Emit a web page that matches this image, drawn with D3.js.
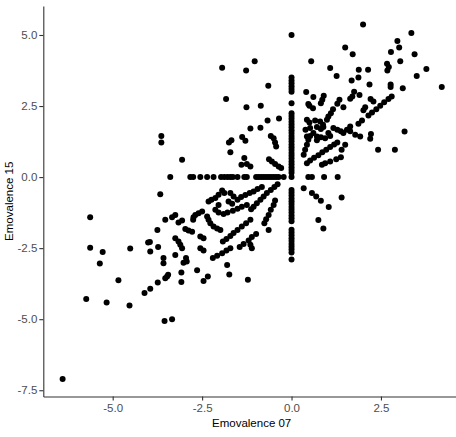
<!DOCTYPE html>
<html>
<head>
<meta charset="utf-8">
<script src="https://cdn.jsdelivr.net/npm/d3@7"></script>
<style>
  body { margin: 0; background: #fff; }
  svg { display: block; font-family: "Liberation Sans", Arial, sans-serif; }
</style>
</head>
<body>
<svg width="456" height="437"></svg>
<script>
// y values of the points where Emovalence 07 is exactly 0
const atZero07 = [5.0, 3.5, 3.4, 3.3, 3.2, 3.1, 3.0, 2.6, 2.25, 2.15, 2.05, 1.95, 1.85, 1.75, 1.65,
  1.55, 1.45, 1.35, 1.25, 1.15, 1.05, 0.95, 0.85, 0.75, 0.65, 0.55, 0.45, 0.35, 0.25, 0.15, 0,
  -0.45, -0.55, -0.65, -0.75, -0.85, -0.95, -1.05, -1.15, -1.25, -1.35, -1.45, -1.55,
  -1.85, -1.95, -2.05, -2.15, -2.25, -2.35, -2.45, -2.55, -2.65, -2.9];

// x values of the points where Emovalence 15 is exactly 0
const atZero15 = [-3.39, -2.83, -2.75, -2.55, -2.36, -2.18, -1.97, -1.88, -1.79, -1.71, -1.64,
  -1.51, -1.32, -1.25, -0.99, -0.92, -0.85, -0.78, -0.71, -0.64, -0.57, -0.5, -0.43, -0.36,
  -0.22, 0.47, 0.57, 0.91, 1.29];

// remaining points as [emovalence07, emovalence15]
const upperLeft = [[-1.94,3.85],[-1.27,3.75],[-1.03,4.08],[-0.65,3.21],[-1.83,2.75],[-1.26,2.46],
  [-0.86,2.51],[-0.67,1.99],[-0.35,2.06],[-1.15,1.71],[-0.87,1.74],[-3.64,1.45],[-3.64,1.22],
  [-1.38,1.41],[-1.29,1.28],[-1.75,1.22],[-1.68,1.3],[-0.58,1.45],[-0.5,1.37],[-0.46,1.22],
  [-0.43,1.08],[-1.71,0.87],[-3.06,0.61],[-1.32,0.67],[-1.4,0.43],[-1.25,0.46],[-1.15,0.37],
  [-0.63,0.63],[-0.55,0.55],[-0.46,0.46],[-0.36,0.37],[-0.29,0.32]];

const upperRight = [[0.55,4.08],[0.41,2.99],[0.47,2.57],[0.43,2.02],[0.39,1.67],[0.43,1.43],
  [2.0,5.37],[3.35,5.07],[2.96,4.79],[3.01,4.56],[2.78,4.4],[1.5,4.56],[1.71,4.32],[3.44,4.32],
  [3.04,4.08],[2.67,3.99],[2.72,3.87],[2.68,3.75],[3.77,3.8],[1.08,3.84],[1.88,3.78],[2.14,3.78],
  [1.26,3.56],[1.87,3.5],[1.68,3.4],[3.5,3.56],[2.18,3.26],[2.77,3.26],[2.77,3.17],[3.11,3.13],
  [4.2,3.17],[1.75,3.0],[1.9,2.89],[0.61,2.82],[0.9,2.86],[0.86,2.72],[0.82,2.6],[0.5,2.51],
  [0.6,2.42],[1.34,2.72],[1.28,2.58],[1.45,2.46],[1.16,2.39],[1.1,2.25],[1.64,2.76],[1.7,2.84],
  [2.21,2.75],[2.29,2.66],[2.8,2.84],[2.71,2.75],[2.59,2.63],[2.48,2.51],[2.37,2.39],[2.25,2.27],
  [2.15,2.17],[2.06,2.46],[2.01,2.35],[1.97,1.99],[1.87,1.88],[1.64,1.78],[1.55,1.67],[1.45,1.55],
  [1.03,2.13],[0.99,2.02],[0.5,1.92],[0.66,1.99],[0.8,1.96],[0.88,1.84],[0.71,1.76],[0.82,1.69],
  [0.89,1.76],[0.52,1.73],[1.17,1.73],[1.28,1.67],[1.38,1.61],[0.61,1.55],[0.71,1.43],[0.82,1.4],
  [0.94,1.37],[1.03,1.55],[1.08,1.45],[0.71,1.3],[1.64,1.61],[1.78,1.49],[1.92,1.43],[2.22,1.52],
  [2.2,1.35],[3.16,1.6],[2.42,0.96],[2.89,0.96],[0.43,0.49],[0.52,0.58],[0.63,0.68],[0.75,0.77],
  [0.86,0.87],[0.97,0.96],[1.08,1.06],[1.19,1.15],[1.28,1.22],[0.85,0.43],[0.94,0.49],[1.08,0.55],
  [1.25,0.63],[1.38,0.7],[1.4,0.96],[1.5,1.14],[0.34,0.79],[0.38,0.96],[0.43,1.14],[0.47,1.31],
  [0.52,1.45]];

const lowerRight = [[0.34,-0.39],[0.57,-0.56],[0.69,-0.68],[0.82,-0.83],[1.04,-1.05],[1.4,-0.72],
  [0.75,-1.51],[0.89,-1.81]];

const lowerLeft = [[-3.67,-0.6],
  [-0.39,-0.25],[-0.48,-0.35],[-0.58,-0.45],[-0.69,-0.56],[-0.78,-0.68],[-0.87,-0.8],[-0.97,-0.92],
  [-1.06,-1.04],[-1.13,-1.13],
  [-0.46,-0.82],[-0.5,-0.98],[-0.58,-1.15],[-0.64,-1.33],[-0.71,-1.48],[-0.76,-1.62],[-0.64,-1.86],
  [-0.83,-0.35],[-0.95,-0.42],[-1.06,-0.51],[-1.17,-0.56],[-1.29,-0.63],[-1.41,-0.7],[-1.51,-0.8],
  [-1.25,-0.98],[-1.39,-1.04],[-1.51,-1.11],[-1.64,-1.18],[-1.79,-1.25],[-1.9,-1.3],
  [-1.15,-1.5],[-1.27,-1.62],[-1.39,-1.74],[-1.51,-1.86],[-1.62,-1.97],[-1.71,-2.07],[-1.82,-2.18],
  [-1.92,-2.27],
  [-0.99,-2.0],[-1.11,-2.11],[-1.2,-2.23],[-1.34,-2.35],[-1.45,-2.46],[-1.15,-2.38],[-1.11,-2.5],
  [-1.71,-2.5],[-1.82,-2.58],[-1.94,-2.68],[-2.08,-2.77],[-2.2,-2.85],[-1.8,-3.09],
  [-1.94,-0.47],[-1.88,-0.56],[-2.04,-0.62],[-2.13,-0.74],[-2.24,-0.8],[-2.32,-0.86],
  [-1.71,-0.56],[-1.62,-0.68],[-1.76,-0.86],[-1.66,-0.94],[-2.04,-0.98],[-2.13,-1.15],[-2.04,-1.25],
  [-2.5,-1.21],[-2.6,-1.27],[-2.69,-1.33],[-3.25,-1.33],[-3.34,-1.41],[-3.53,-1.5],
  [-3.06,-1.53],[-3.16,-1.6],[-2.74,-1.41],[-2.75,-1.5],[-2.36,-1.39],[-2.32,-1.5],[-2.27,-1.62],
  [-2.18,-1.74],[-2.08,-1.81],[-1.99,-1.86],[-2.97,-1.83],[-2.88,-1.88],[-2.78,-1.92],
  [-2.55,-2.09],[-2.46,-2.15],[-3.25,-2.15],[-3.16,-2.27],[-3.75,-1.86],[-3.11,-2.38],[-3.06,-2.5],
  [-2.55,-2.5],[-2.46,-2.58],[-3.25,-2.74],[-2.95,-2.85],[-2.93,-2.97],[-3.58,-2.85],[-3.58,-3.03],
  [-5.63,-1.41],[-5.63,-2.49],[-5.28,-2.64],[-4.51,-2.51],[-4.01,-2.3],[-3.96,-2.28],[-3.95,-2.62],
  [-3.73,-2.46],[-5.36,-3.04],[-4.84,-3.63],[-5.74,-4.29],[-5.17,-4.41],[-4.53,-4.52],[-4.11,-4.08],
  [-3.95,-3.93],[-3.74,-3.71],[-6.4,-7.1],[-3.53,-3.56],[-3.48,-3.5],[-3.45,-3.44],[-3.08,-3.36],
  [-3.08,-3.69],[-3.02,-3.01],[-2.64,-3.28],[-2.46,-3.66],[-2.34,-3.5],[-1.74,-3.43],[-1.22,-3.61],
  [-3.55,-5.06],[-3.34,-5.0]];

const xTicks = [-5, -2.5, 0, 2.5];
const yTicks = [-7.5, -5, -2.5, 0, 2.5, 5];

let svg = d3.select("svg"),
    margin = {top: 6, left: 43.3},
    width = 416.7,
    height = 390.5,
    g = svg.append("g").attr("transform", "translate(" + margin.left + "," + margin.top + ")");

let x = d3.scaleLinear().domain([-6.94, 4.71]).range([0, width]),
    y = d3.scaleLinear().domain([-7.72, 6.02]).range([height, 0]);

let points = atZero07.map(function(v) { return [0, v]; })
  .concat(atZero15.map(function(v) { return [v, 0]; }))
  .concat(upperLeft, upperRight, lowerRight, lowerLeft);

let fmt = function(d) { return d.toFixed(1); };

let xAxis = g.append("g")
    .attr("transform", "translate(0," + height + ")")
    .call(d3.axisBottom(x).tickValues(xTicks).tickFormat(fmt).tickSize(4).tickSizeOuter(0).tickPadding(3));

let yAxis = g.append("g")
    .call(d3.axisLeft(y).tickValues(yTicks).tickFormat(fmt).tickSize(4).tickSizeOuter(0).tickPadding(2));

[xAxis, yAxis].forEach(function(a) {
  a.select(".domain").attr("stroke", "#333").attr("stroke-width", 1.1);
  a.selectAll(".tick line").attr("stroke", "#333").attr("stroke-width", 1.1);
  a.selectAll(".tick text").attr("fill", "#4d4d4d").style("font-size", "11.5px");
});

g.selectAll(".dot")
  .data(points)
  .enter().append("circle")
  .attr("class", "dot")
  .attr("cx", function(d) { return x(d[0]); })
  .attr("cy", function(d) { return y(d[1]); })
  .attr("r", 3)
  .attr("fill", "#000");

svg.append("text")
  .attr("x", margin.left + width / 2)
  .attr("y", 426.5)
  .attr("text-anchor", "middle")
  .style("font-size", "11.5px")
  .attr("fill", "#000")
  .text("Emovalence 07");

svg.append("text")
  .attr("transform", "translate(13.3," + (margin.top + height / 2) + ") rotate(-90)")
  .attr("text-anchor", "middle")
  .style("font-size", "11.5px")
  .attr("fill", "#000")
  .text("Emovalence 15");
</script>
</body>
</html>
